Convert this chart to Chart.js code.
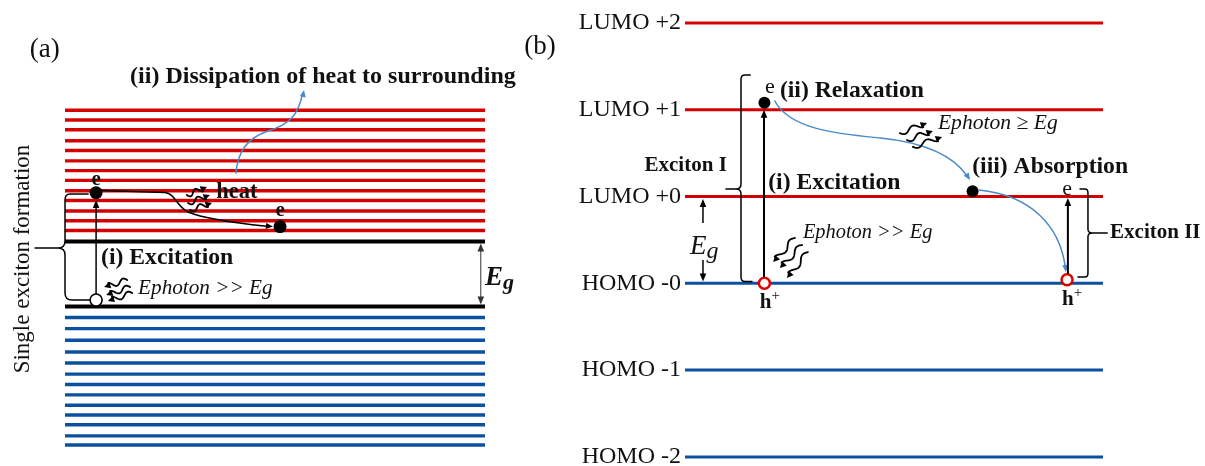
<!DOCTYPE html>
<html>
<head>
<meta charset="utf-8">
<script src="https://cdn.jsdelivr.net/npm/chart.js@4.4.1/dist/chart.umd.min.js"></script>
<style>
  html, body { margin: 0; padding: 0; background: #fff; }
  #wrap { position: relative; width: 1205px; height: 466px; overflow: hidden; }
  #bulk { position: absolute; left: 0; top: 0; }
  #mol { position: absolute; left: 522px; top: 0; }
</style>
</head>
<body>
<div id="wrap">
  <canvas id="bulk" width="522" height="466"></canvas>
  <canvas id="mol" width="683" height="466"></canvas>
</div>
<script>
// (a) bulk semiconductor: sub-band levels, in units of Eg above the valence-band edge
const conductionLevels = [1.17, 1.32, 1.47, 1.63, 1.78, 1.94, 2.09, 2.24, 2.40, 2.55, 2.72, 2.87, 3.02];
const valenceLevels = [-0.17, -0.34, -0.52, -0.70, -0.87, -1.04, -1.20, -1.36, -1.52, -1.67, -1.82, -1.99, -2.13];
const bandEdges = [1.0, 0.0];
const bulkElectrons = [{ x: 0.074, y: 1.75 }, { x: 0.512, y: 1.23 }];
const bulkHoles = [{ x: 0.074, y: 0.10 }];

// (b) molecule: frontier orbitals, in units of the orbital spacing
const orbitalNames = ['LUMO +2', 'LUMO +1', 'LUMO +0', 'HOMO -0', 'HOMO -1', 'HOMO -2'];
const orbitalEnergies = [3, 2, 1, 0, -1, -2];
const molElectrons = [{ x: 0.190, y: 2.08 }, { x: 0.688, y: 1.06 }];
const molHoles = [{ x: 0.190, y: 0 }, { x: 0.914, y: 0.04 }];

const SERIF = '"Liberation Serif", "Times New Roman", Times, serif';
const INK = '#111';
const RED = '#d40000';
const BLUE = '#0b4f9f';
const CURVE = '#4a8ac9';

function font(size, style) { return (style ? style + ' ' : '') + size + 'px ' + SERIF; }

function txt(ctx, P, s, x, y, f, align, baseline) {
  const [px, py] = P(x, y);
  ctx.font = f;
  ctx.textAlign = align || 'left';
  ctx.textBaseline = baseline || 'middle';
  ctx.fillStyle = INK;
  ctx.fillText(s, px, py);
}

function head(ctx, tip, from, color, len, half) {
  len = len || 8; half = half || 3.3;
  const dx = tip[0] - from[0], dy = tip[1] - from[1];
  const L = Math.hypot(dx, dy) || 1, ux = dx / L, uy = dy / L;
  const bx = tip[0] - ux * len, by = tip[1] - uy * len;
  ctx.beginPath();
  ctx.moveTo(tip[0], tip[1]);
  ctx.lineTo(bx - uy * half, by + ux * half);
  ctx.lineTo(bx + uy * half, by - ux * half);
  ctx.closePath();
  ctx.fillStyle = color;
  ctx.fill();
}

function path(ctx, P, cmds, color, lw) {
  ctx.beginPath();
  for (const [c, ...v] of cmds) {
    const pts = [];
    for (let i = 0; i < v.length; i += 2) pts.push(...P(v[i], v[i + 1]));
    if (c === 'M') ctx.moveTo(...pts);
    else if (c === 'L') ctx.lineTo(...pts);
    else if (c === 'Q') ctx.quadraticCurveTo(...pts);
    else ctx.bezierCurveTo(...pts);
  }
  ctx.strokeStyle = color;
  ctx.lineWidth = lw;
  ctx.lineCap = 'round';
  ctx.lineJoin = 'round';
  ctx.stroke();
}

function arrow(ctx, P, a, b, color, lw, both) {
  const A = P(...a), B = P(...b);
  const dx = B[0] - A[0], dy = B[1] - A[1], L = Math.hypot(dx, dy), ux = dx / L, uy = dy / L;
  const s = both ? 6 : 0;
  ctx.beginPath();
  ctx.moveTo(A[0] + ux * s, A[1] + uy * s);
  ctx.lineTo(B[0] - ux * 6, B[1] - uy * 6);
  ctx.strokeStyle = color;
  ctx.lineWidth = lw;
  ctx.lineCap = 'butt';
  ctx.stroke();
  head(ctx, B, A, color);
  if (both) head(ctx, A, B, color);
}

function wavy(ctx, P, a, b) {
  const A = P(...a), B = P(...b);
  const dx = B[0] - A[0], dy = B[1] - A[1], L = Math.hypot(dx, dy), ux = dx / L, uy = dy / L;
  const nx = -uy, ny = ux, body = L - 5;
  ctx.beginPath();
  for (let i = 0; i <= 40; i++) {
    const t = i / 40, s = t * body, w = 2.6 * Math.sin(t * Math.PI * 2.5);
    const X = A[0] + ux * s + nx * w, Y = A[1] + uy * s + ny * w;
    if (i) ctx.lineTo(X, Y); else ctx.moveTo(X, Y);
  }
  ctx.strokeStyle = '#000';
  ctx.lineWidth = 1.8;
  ctx.lineCap = 'round';
  ctx.stroke();
  head(ctx, B, [A[0] + ux * body * 0.6, A[1] + uy * body * 0.6], '#000', 6.5, 3.3);
}

function subLabel(ctx, P, x, y, big, small, style, drop) {
  const [px, py] = P(x, y);
  ctx.fillStyle = INK; ctx.textAlign = 'left'; ctx.textBaseline = 'alphabetic';
  ctx.font = font(big, style); ctx.fillText('E', px, py);
  const w = ctx.measureText('E').width;
  ctx.font = font(small, style); ctx.fillText('g', px + w, py + drop);
}

function holeLabel(ctx, P, x, y) {
  const [px, py] = P(x, y);
  ctx.fillStyle = INK; ctx.textAlign = 'left'; ctx.textBaseline = 'alphabetic';
  ctx.font = font(21, 'bold'); ctx.fillText('h', px, py);
  const w = ctx.measureText('h').width;
  ctx.font = font(15); ctx.fillText('+', px + w, py - 8);
}

function overlay(id, draw) {
  return {
    id,
    afterDatasetsDraw(chart) {
      const { ctx } = chart;
      const xs = chart.scales.x, ys = chart.scales.y;
      const P = (a, b) => [xs.getPixelForValue(a), ys.getPixelForValue(b)];
      ctx.save();
      draw(ctx, P);
      ctx.restore();
    }
  };
}

function levelDataset(e, color, width) {
  return {
    data: [{ x: 0, y: e }, { x: 1, y: e }],
    showLine: true, borderColor: color, borderWidth: width,
    pointRadius: 0, borderCapStyle: 'butt', order: 2
  };
}

// ---------- (a) bulk: hot-carrier cooling ----------
function drawBulk(ctx, P) {
  txt(ctx, P, '(a)', -0.048, 3.946, font(27), 'center');
  txt(ctx, P, '(ii) Dissipation of heat to surrounding', 0.155, 3.531, font(24, 'bold'));

  // heat escaping to the surroundings
  path(ctx, P, [['M', 0.407, 2.054], ['C', 0.412, 2.408, 0.436, 2.592, 0.483, 2.700],
    ['C', 0.536, 2.808, 0.555, 2.946, 0.566, 3.280]], CURVE, 1.5);
  head(ctx, P(0.569, 3.331), P(0.560, 3.000), CURVE, 7, 3);

  // electron cooling down the conduction sub-bands
  path(ctx, P, [['M', 0.088, 1.785], ['L', 0.238, 1.754], ['C', 0.264, 1.731, 0.264, 1.546, 0.293, 1.454],
    ['C', 0.333, 1.346, 0.405, 1.285, 0.480, 1.233]], '#000', 1.5);
  head(ctx, P(0.495, 1.229), P(0.405, 1.285), '#000', 7, 3);

  wavy(ctx, P, [0.290, 1.715], [0.338, 1.838]);
  wavy(ctx, P, [0.293, 1.592], [0.345, 1.715]);
  wavy(ctx, P, [0.298, 1.485], [0.350, 1.592]);
  txt(ctx, P, 'heat', 0.360, 1.762, font(22.5, 'bold'));

  txt(ctx, P, 'e', 0.074, 1.946, font(21, 'bold'), 'center');
  txt(ctx, P, 'e', 0.512, 1.469, font(21, 'bold'), 'center');

  // excitation
  arrow(ctx, P, [0.074, 0.192], [0.074, 1.640], '#000', 1.5);
  txt(ctx, P, '(i) Excitation', 0.0857, 0.746, font(23.7, 'bold'));
  wavy(ctx, P, [0.148, 0.408], [0.093, 0.300]);
  wavy(ctx, P, [0.155, 0.300], [0.098, 0.177]);
  wavy(ctx, P, [0.160, 0.208], [0.102, 0.085]);
  txt(ctx, P, 'Ephoton >> Eg', 0.174, 0.285, font(21.2, 'italic'));

  // exciton brace
  path(ctx, P, [['M', 0.055, 1.731], ['L', 0.012, 1.731], ['Q', 0, 1.731, 0, 1.638], ['L', 0, 1.008],
    ['Q', 0, 0.9, -0.0167, 0.9], ['L', -0.0714, 0.9],
    ['M', -0.0167, 0.9], ['Q', 0, 0.9, 0, 0.792], ['L', 0, 0.208], ['Q', 0, 0.1, 0.0167, 0.1], ['L', 0.0595, 0.1]],
    '#000', 1.5);
  const [rx, ry] = P(-0.100, 0.731);
  ctx.save();
  ctx.translate(rx, ry);
  ctx.rotate(-Math.PI / 2);
  ctx.font = font(23); ctx.fillStyle = INK; ctx.textAlign = 'center'; ctx.textBaseline = 'middle';
  ctx.fillText('Single exciton formation', 0, 0);
  ctx.restore();

  // band gap
  arrow(ctx, P, [0.990, 0.031], [0.990, 0.969], '#333', 1, true);
  subLabel(ctx, P, 1.0, 0.331, 27, 22, 'italic bold', 4);
}

// ---------- (b) molecule: relaxation and re-absorption ----------
function drawMolecule(ctx, P) {
  txt(ctx, P, '(b)', -0.347, 2.724, font(27), 'center');

  // exciton I
  path(ctx, P, [['M', 0.156, 2.400], ['L', 0.144, 2.400], ['Q', 0.134, 2.400, 0.134, 2.354], ['L', 0.134, 1.144],
    ['Q', 0.134, 1.086, 0.122, 1.086], ['L', 0.098, 1.086],
    ['M', 0.122, 1.086], ['Q', 0.134, 1.086, 0.134, 1.029], ['L', 0.134, 0.070], ['Q', 0.134, 0.020, 0.144, 0.020], ['L', 0.160, 0.020]],
    '#000', 1.5);
  txt(ctx, P, 'Exciton I', 0.100, 1.362, font(21, 'bold'), 'right');
  arrow(ctx, P, [0.189, 0.073], [0.189, 2.000], '#000', 2);
  txt(ctx, P, 'e', 0.203, 2.261, font(22), 'center');
  txt(ctx, P, '(ii) Relaxation', 0.227, 2.215, font(23.7, 'bold'));
  txt(ctx, P, '(i) Excitation', 0.199, 1.156, font(23.7, 'bold'));
  holeLabel(ctx, P, 0.179, -0.285);

  // band gap
  arrow(ctx, P, [0.043, 0.695], [0.043, 0.971], '#000', 1.5);
  arrow(ctx, P, [0.043, 0.268], [0.043, 0.020], '#000', 1.5);
  subLabel(ctx, P, 0.012, 0.338, 27, 24, 'italic', 4);

  wavy(ctx, P, [0.263, 0.522], [0.211, 0.245]);
  wavy(ctx, P, [0.280, 0.441], [0.227, 0.176]);
  wavy(ctx, P, [0.294, 0.360], [0.244, 0.061]);
  txt(ctx, P, 'Ephoton >> Eg', 0.282, 0.579, font(20.4, 'italic'));

  // relaxation path with photon emission
  path(ctx, P, [['M', 0.215, 2.100], ['C', 0.251, 1.767, 0.371, 1.720, 0.467, 1.674],
    ['C', 0.586, 1.617, 0.646, 1.444, 0.676, 1.230]], CURVE, 1.5);
  head(ctx, P(0.682, 1.190), P(0.650, 1.420), CURVE, 7, 3);
  wavy(ctx, P, [0.514, 1.730], [0.579, 1.846]);
  wavy(ctx, P, [0.531, 1.651], [0.593, 1.755]);
  wavy(ctx, P, [0.545, 1.571], [0.615, 1.685]);
  txt(ctx, P, 'Ephoton \u2265 Eg', 0.605, 1.845, font(21.6, 'italic'));
  txt(ctx, P, '(iii) Absorption', 0.687, 1.340, font(23.7, 'bold'));

  // re-absorption creating exciton II
  path(ctx, P, [['M', 0.703, 1.075], ['C', 0.825, 1.017, 0.897, 0.672, 0.910, 0.180]], CURVE, 1.5);
  head(ctx, P(0.911, 0.130), P(0.905, 0.500), CURVE, 7, 3);
  arrow(ctx, P, [0.916, 0.107], [0.916, 0.983], '#000', 2);
  txt(ctx, P, 'e', 0.914, 1.086, font(22), 'center');
  path(ctx, P, [['M', 0.945, 1.086], ['L', 0.957, 1.086], ['Q', 0.964, 1.086, 0.964, 1.040], ['L', 0.964, 0.626],
    ['Q', 0.964, 0.580, 0.974, 0.580], ['L', 1.010, 0.580],
    ['M', 0.974, 0.580], ['Q', 0.964, 0.580, 0.964, 0.533], ['L', 0.964, 0.119], ['Q', 0.964, 0.073, 0.957, 0.073], ['L', 0.940, 0.073]],
    '#000', 1.5);
  txt(ctx, P, 'Exciton II', 1.017, 0.580, font(21, 'bold'));
  holeLabel(ctx, P, 0.902, -0.250);
}

const common = {
  responsive: false,
  animation: false,
  devicePixelRatio: 1,
  events: [],
  layout: { padding: 0, autoPadding: false },
  plugins: { legend: { display: false }, tooltip: { enabled: false } }
};

new Chart(document.getElementById('bulk'), {
  type: 'scatter',
  data: {
    datasets: [
      { data: bulkElectrons, pointRadius: 6.5, backgroundColor: '#000', borderWidth: 0, order: 0 },
      { data: bulkHoles, pointRadius: 6, backgroundColor: '#fff', borderColor: '#000', borderWidth: 1.6, order: 0 },
      ...conductionLevels.map(e => levelDataset(e, RED, 3.4)),
      ...valenceLevels.map(e => levelDataset(e, BLUE, 3.4)),
      ...bandEdges.map(e => levelDataset(e, '#000', 4))
    ]
  },
  options: Object.assign({}, common, {
    scales: {
      x: { type: 'linear', display: false, min: -0.1548, max: 1.0881 },
      y: { type: 'linear', display: false, min: -2.4538, max: 4.7154 }
    }
  }),
  plugins: [overlay('bulkNotes', drawBulk)]
});

new Chart(document.getElementById('mol'), {
  type: 'scatter',
  data: {
    datasets: [
      { data: molElectrons, pointRadius: 6, backgroundColor: '#000', borderWidth: 0, order: 0 },
      { data: molHoles, pointRadius: 5.5, backgroundColor: '#fff', borderColor: '#e00000', borderWidth: 2.5, order: 0 },
      ...orbitalEnergies.map(e => levelDataset(e, e > 0 ? RED : BLUE, 3))
    ]
  },
  options: Object.assign({}, common, {
    scales: {
      x: { type: 'linear', display: false, min: 0, max: 1.2440 },
      y: {
        type: 'linear', position: 'left', min: -2.1048, max: 3.2638,
        grid: { display: false, drawTicks: false },
        border: { display: false },
        afterBuildTicks: axis => { axis.ticks = orbitalEnergies.map(v => ({ value: v })); },
        afterFit: axis => { axis.width = 163; axis.paddingTop = 0; axis.paddingBottom = 0; },
        ticks: {
          autoSkip: false, padding: 4, color: INK,
          font: { family: SERIF, size: 24 },
          callback: v => { const i = orbitalEnergies.indexOf(v); return i >= 0 ? orbitalNames[i] : ''; }
        }
      }
    }
  }),
  plugins: [overlay('molNotes', drawMolecule)]
});
</script>
</body>
</html>
